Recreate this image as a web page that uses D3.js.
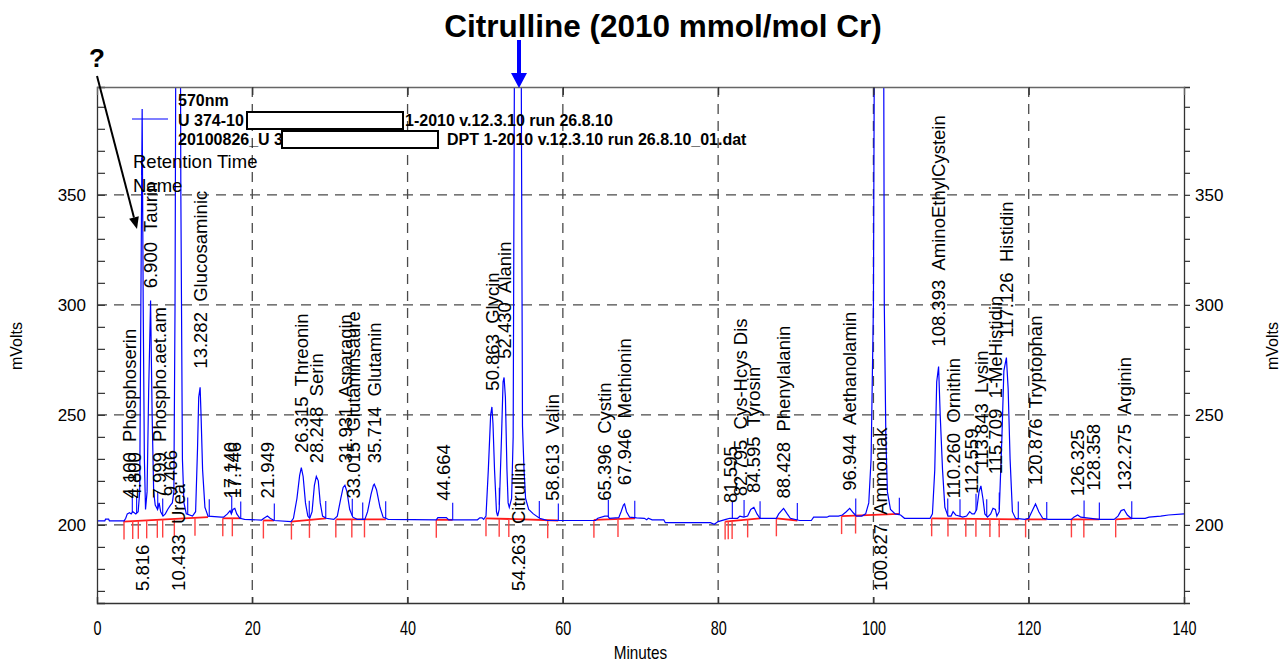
<!DOCTYPE html>
<html><head><meta charset="utf-8">
<script src="https://cdn.jsdelivr.net/npm/d3@7"></script>
<style>
body{margin:0;background:#fff}
svg{display:block}
text{font-family:"Liberation Sans",Arial,sans-serif;fill:#000}
.pre{white-space:pre}
</style>
</head><body>
<svg id="c" width="1288" height="662"></svg>
<script>
// ---------- DATA ----------
const minuteTicks = [0, 20, 40, 60, 80, 100, 120, 140];
const gridMinutes = [20, 40, 60, 80, 100, 120];
const mvMajorTicks = [200, 250, 300, 350];
const mvAllTicks = [170, 180, 190, 200, 210, 220, 230, 240, 250, 260, 270, 280, 290, 300, 310, 320, 330, 340, 350, 360, 370, 380, 390];

// chromatogram trace: [minutes, mVolts]
const chromatogram = [
 [0,201.8],[1.0,201.8],[1.1,202.6],[1.5,202.6],[1.6,201.8],[3.5,201.8],[3.7,203],[3.9,205],[4.2,205.5],[4.4,205],[4.6,206],[4.8,205.5],[5.0,205],[5.3,206],
 [5.5,215],[5.65,300],[5.816,389],[5.95,300],[6.1,230],[6.25,207],
 [6.45,215],[6.65,260],[6.9,302],[7.1,250],[7.3,215],[7.5,209],
 [7.8,207],[8.0,210],[8.2,206],[8.5,204],[8.8,205],[9.1,207],[9.466,209],[9.7,210],
 [9.9,215],[10.05,300],[10.3,600],[10.433,650],[10.6,600],[10.8,350],[11.0,230],[11.2,210],[11.5,205],[12.3,204],
 [12.7,206],[12.95,235],[13.1,258],[13.282,262.5],[13.4,250],[13.6,225],[13.9,208],[14.3,204],[16.0,203.5],
 [16.3,203.5],[16.8,205],[17.14,206.5],[17.3,205],[17.5,207],[17.75,207.5],[18.0,205],[18.4,203],[19.0,202.5],
 [21.2,202.2],[21.5,203],[21.949,204],[22.3,203],[22.8,202],[25.0,201.5],
 [25.3,203],[25.75,212],[26.1,222.5],[26.315,226],[26.55,222],[26.85,210],[27.15,204],[27.4,203],
 [27.7,206],[28.0,218],[28.248,222],[28.5,220],[28.75,210],[29.05,204],[29.5,203],[30.5,202.5],
 [30.95,204],[31.4,212],[31.7,217],[31.931,218],[32.2,215],[32.55,207],[32.95,203.5],[33.5,202.5],[34.5,202.5],
 [34.85,206],[35.3,214],[35.6,218],[35.714,218.5],[36.0,216],[36.45,208],[36.85,203.5],[37.5,202.5],
 [43.7,202.3],[43.9,203.3],[45.0,203.3],[45.3,202.3],[49.0,202.3],[49.3,203.2],[49.6,203.2],[49.8,202.5],
 [50.1,204],[50.4,225],[50.7,250],[50.863,253.6],[51.0,246],[51.2,225],[51.45,206],[51.6,204],
 [51.8,207],[52.1,240],[52.3,265],[52.43,267],[52.6,258],[52.8,225],[52.95,210],
 [53.1,208],[53.4,212],[53.6,240],[53.8,450],[54.263,700],[54.6,450],[54.8,245],[55.0,225],[55.2,212],[55.6,207],[56.2,205],[57.0,203],[57.5,202.5],[58.0,202],
 [64.2,202],[64.5,203],[65.4,204],[65.8,204],[66.0,203],[67.2,203.3],[67.5,206],[67.8,209],[67.946,209.5],[68.2,206],[68.6,203.5],[69.5,203.2],[70.5,203],[70.8,202.3],[71.0,203],[71.5,202.3],[73.0,202.3],[73.2,201],[79.0,201],[79.5,200.3],[80.0,201.5],[81.0,202.5],[81.5,203],[82.5,203],[82.8,204],[83.3,203.5],[83.8,204],[84.2,207],[84.6,208],[85.0,205],[85.4,203],[87.5,203],[87.8,205],[88.428,207.5],[88.9,205],[89.3,203],[90.5,202],[92.0,202],[92.3,203.5],[94.0,203.5],[94.3,204],[95.5,204],
 [96.0,204.5],[96.5,206],[96.944,207.5],[97.4,205.5],[97.8,204],[98.5,204],[99.0,205],[99.4,210],[99.7,230],[100.0,300],[100.3,600],[100.827,700],[101.2,600],[101.4,300],[101.6,240],[101.8,215],[102.2,207],[102.8,205],[103.5,204.5],[104.0,203],[107.3,203],
 [107.6,205],[107.9,225],[108.15,265],[108.393,272],[108.6,250],[108.9,225],[109.2,208],[109.6,204],
 [110.0,204],[110.26,206],[110.6,204.5],[111.5,203.5],[112.0,204],[112.4,206],[112.7,205],[113.0,205],
 [113.3,207],[113.6,215],[113.843,217.7],[114.1,212],[114.35,205],[114.7,203.5],
 [115.1,205],[115.4,207.5],[115.709,207],[115.9,204],
 [116.2,206],[116.55,240],[116.8,270],[117.126,276],[117.35,262],[117.6,230],[117.9,206],[118.3,203],[119.5,202.5],
 [120.0,203],[120.4,206],[120.876,209.5],[121.3,206],[121.8,203],[122.5,202.5],[125.5,202.5],[125.8,203.5],[126.3,204.5],[126.7,203.5],[128.0,203],[129.0,202.5],[131.0,202.5],
 [131.5,204],[131.9,206.5],[132.275,207],[132.7,204.5],[133.2,203],[135.0,203],[135.5,203.5],[137.0,204],[138.0,204.5],[140,205]
];

// integration baselines (red)
const baselineFrom   = [3.4, 16.2, 21.4, 25.0, 30.8, 43.7, 50.1, 64.0, 80.9, 87.5, 95.9, 107.5, 119.6, 125.5, 131.2];
const baselineTo     = [14.3, 18.5, 22.8, 29.5, 37.2, 45.8, 59.4, 69.3, 85.4, 90.2, 103.3, 118.7, 122.3, 129.1, 133.3];
const baselineFromMv = [201.5, 203, 202, 201.5, 202.5, 202.3, 203, 202.3, 201.5, 203, 204, 203, 202.5, 202.5, 202.5];
const baselineToMv   = [203.5, 203, 202, 203, 202.5, 202.3, 202, 203, 203, 202, 205, 202.5, 202.5, 202.5, 203];

// peak start (red) and end (blue) markers
const peakStartMinutes = [3.48, 4.6, 5.32, 6.4, 7.77, 8.46, 9.96, 12.62, 16.2, 17.43, 21.43, 25.04, 27.36, 30.76, 32.82, 34.45, 43.7, 50.1, 51.8, 53.04, 58.05, 64.0, 67.1, 80.9, 81.3, 81.8, 83.8, 87.5, 95.9, 97.7, 107.5, 109.6, 111.9, 113.2, 115.0, 116.2, 119.6, 125.5, 127.1, 131.2];
const peakEndMinutes = [4.55, 5.1, 5.76, 7.82, 8.46, 11.68, 14.46, 17.35, 18.51, 22.84, 27.34, 29.46, 32.88, 34.22, 37.18, 45.81, 51.82, 56.97, 59.42, 65.86, 69.26, 81.83, 83.34, 85.4, 90.2, 97.72, 103.34, 109.57, 111.15, 113.21, 114.59, 116.21, 118.66, 122.32, 127.13, 129.1, 133.27];

// peak annotations above trace
const peakMinutes = [4.1, 4.8, 6.9, 7.999, 9.466, 13.282, 17.14, 17.746, 21.949, 26.315, 28.248, 31.931, 33.015, 35.714, 44.664, 50.863, 52.43, 58.613, 65.396, 67.946, 81.595, 82.795, 84.595, 88.428, 96.944, 108.393, 110.26, 112.559, 113.843, 115.709, 117.126, 120.876, 126.325, 128.358, 132.275];
const peakNames = ["Phosphoserin", "", "Taurin", "Phospho.aet.am", "", "Glucosaminic", "", "", "", "Threonin", "Serin", "Asparagin", "Glutaminsäure", "Glutamin", "", "Glycin", "Alanin", "Valin", "Cystin", "Methionin", "", "Cys-Hcys Dis", "Tyrosin", "Phenylalanin", "Aethanolamin", "AminoEthylCystein", "Ornithin", "", "Lysin", "1-MeHistidin", "Histidin", "Tryptophan", "", "", "Arginin"];
const peakLabelMv = [212, 212, 307.5, 212, 213, 271, 212, 212, 212, 232.7, 228, 228, 212, 228, 211, 261, 275.5, 211, 211, 218, 210, 213, 214.5, 212, 215.5, 281, 212, 214, 225.5, 223, 285, 218, 213, 215.5, 215.5];
// peak annotations starting below the baseline (off-scale peaks)
const lowPeakMinutes = [5.816, 10.433, 54.263, 100.827];
const lowPeakNames = ["", "Urea", "Citrullin", "Ammoniak"];
const lowLabelMv = 170;

const titleText = "Citrulline (2010 mmol/mol Cr)";
const legendLines = ["570nm", "U 374-10", "20100826_U 3"];
const legendTails = ["1-2010 v.12.3.10 run 26.8.10", "DPT 1-2010 v.12.3.10 run 26.8.10_01.dat"];

// ---------- DRAW ----------
const L = 97, R = 1184, T = 87, B = 603;
const x = d3.scaleLinear().domain([0, 140]).range([L, R]);
const y = d3.scaleLinear().domain([164.5, 399]).range([B, T]);
const svg = d3.select("#c");
svg.append("defs").append("clipPath").attr("id", "pa")
  .append("rect").attr("x", L).attr("y", T).attr("width", R - L).attr("height", B - T);

const gridCol = "#4a4a4a";
svg.append("g").selectAll("line").data(gridMinutes).join("line")
  .attr("x1", d => x(d)).attr("x2", d => x(d)).attr("y1", T).attr("y2", B)
  .attr("stroke", gridCol).attr("stroke-width", 1.3).attr("stroke-dasharray", "10,7");
svg.append("g").selectAll("line").data(mvMajorTicks).join("line")
  .attr("x1", L).attr("x2", R).attr("y1", d => y(d)).attr("y2", d => y(d))
  .attr("stroke", gridCol).attr("stroke-width", 1.3).attr("stroke-dasharray", "10,7");

const interp = t => {
  const i = d3.bisector(d => d[0]).left(chromatogram, t);
  if (i <= 0) return chromatogram[0][1];
  if (i >= chromatogram.length) return chromatogram[chromatogram.length - 1][1];
  const a = chromatogram[i - 1], b = chromatogram[i];
  return a[1] + (b[1] - a[1]) * (t - a[0]) / (b[0] - a[0]);
};
const baseAt = t => {
  for (let k = 0; k < baselineFrom.length; k++) {
    if (t >= baselineFrom[k] - 0.05 && t <= baselineTo[k] + 0.05) {
      const f = (t - baselineFrom[k]) / (baselineTo[k] - baselineFrom[k]);
      return baselineFromMv[k] + f * (baselineToMv[k] - baselineFromMv[k]);
    }
  }
  return Math.min(interp(t), 203);
};

const plot = svg.append("g").attr("clip-path", "url(#pa)");

// peak labels (drawn under the trace)
const lab = svg.append("g").attr("font-size", 18.5);
lab.selectAll("text.up").data(peakMinutes).join("text").attr("class", "pre up")
  .attr("transform", (d, i) => `translate(${x(d)},${y(peakLabelMv[i])}) rotate(-90)`)
  .attr("dy", "0.36em")
  .text((d, i) => d3.format(".3f")(d) + (peakNames[i] ? "  " + peakNames[i] : ""));
lab.selectAll("text.dn").data(lowPeakMinutes).join("text").attr("class", "pre dn")
  .attr("transform", d => `translate(${x(d)},${y(lowLabelMv)}) rotate(-90)`)
  .attr("dy", "0.36em")
  .text((d, i) => d3.format(".3f")(d) + (lowPeakNames[i] ? "  " + lowPeakNames[i] : ""));

// red baselines
plot.append("g").selectAll("line").data(baselineFrom).join("line")
  .attr("x1", d => x(d)).attr("x2", (d, i) => x(baselineTo[i]))
  .attr("y1", (d, i) => y(baselineFromMv[i])).attr("y2", (d, i) => y(baselineToMv[i]))
  .attr("stroke", "#ff1a1a").attr("stroke-width", 1.8);
plot.append("g").selectAll("line").data(peakStartMinutes).join("line")
  .attr("x1", d => x(d)).attr("x2", d => x(d))
  .attr("y1", d => y(baseAt(d))).attr("y2", d => y(baseAt(d)) + 18)
  .attr("stroke", "#ff4040").attr("stroke-width", 1.4);
plot.append("g").selectAll("line").data(peakEndMinutes).join("line")
  .attr("x1", d => x(d)).attr("x2", d => x(d))
  .attr("y1", d => y(interp(d))).attr("y2", d => y(interp(d)) - 17)
  .attr("stroke", "#1a1aff").attr("stroke-width", 1.2);

// trace
plot.append("path").datum(chromatogram)
  .attr("d", d3.line().x(d => x(d[0])).y(d => y(d[1])))
  .attr("fill", "none").attr("stroke", "#0000ff").attr("stroke-width", 1.2);

// axes
const axCol = "#333";
const gl = svg.append("g").attr("transform", `translate(${L},0)`)
  .call(d3.axisLeft(y).tickValues(mvAllTicks).tickSize(-8).tickPadding(11)
    .tickFormat(d => mvMajorTicks.includes(d) ? d : ""));
const gr = svg.append("g").attr("transform", `translate(${R},0)`)
  .call(d3.axisRight(y).tickValues(mvAllTicks).tickSize(6).tickPadding(5)
    .tickFormat(d => mvMajorTicks.includes(d) ? d : ""));
const gb = svg.append("g").attr("transform", `translate(0,${B})`)
  .call(d3.axisBottom(x).tickValues(minuteTicks).tickSize(-6).tickPadding(18));
const gt = svg.append("g").attr("transform", `translate(0,${T})`)
  .call(d3.axisTop(x).tickValues(gridMinutes).tickSize(-8).tickFormat(""));
[gl, gr, gb, gt].forEach(g => {
  g.select(".domain").attr("stroke", axCol).attr("stroke-width", 1.3);
  g.selectAll(".tick line").attr("stroke", axCol).attr("stroke-width", 1.2);
  g.selectAll("text").attr("font-size", 17).attr("fill", "#111");
});
gb.selectAll("text").attr("font-size", 20).attr("transform", "scale(0.72,1)");
gt.select(".domain").attr("stroke", "#666");
svg.append("text").attr("transform", `translate(${(L + R) / 2},659) scale(0.85,1)`).attr("text-anchor", "middle")
  .attr("font-size", 18).text("Minutes");
svg.append("text").attr("transform", `translate(22,346) rotate(-90)`).attr("text-anchor", "middle")
  .attr("font-size", 16).text("mVolts");
svg.append("text").attr("transform", `translate(1278,346) rotate(-90)`).attr("text-anchor", "middle")
  .attr("font-size", 16).text("mVolts");

// legend
svg.append("text").attr("x", 178).attr("y", 106).attr("font-size", 16).attr("font-weight", "bold").text(legendLines[0]);
svg.append("text").attr("x", 178).attr("y", 126).attr("font-size", 16).attr("font-weight", "bold").text(legendLines[1]);
svg.append("text").attr("x", 178).attr("y", 145).attr("font-size", 16).attr("font-weight", "bold").text(legendLines[2]);
svg.append("text").attr("x", 405).attr("y", 126).attr("font-size", 16).attr("font-weight", "bold").text(legendTails[0]);
svg.append("text").attr("x", 447).attr("y", 145).attr("font-size", 16).attr("font-weight", "bold").text(legendTails[1]);
svg.append("rect").attr("x", 247).attr("y", 112).attr("width", 156).attr("height", 17)
  .attr("fill", "#fff").attr("stroke", "#000").attr("stroke-width", 2);
svg.append("rect").attr("x", 282).attr("y", 131).attr("width", 156).attr("height", 17)
  .attr("fill", "#fff").attr("stroke", "#000").attr("stroke-width", 2);
svg.append("line").attr("x1", 132).attr("x2", 168).attr("y1", 119).attr("y2", 119)
  .attr("stroke", "#0000ff").attr("stroke-width", 1.2);
svg.append("text").attr("x", 133).attr("y", 168).attr("font-size", 18.5).text("Retention Time");
svg.append("text").attr("x", 133).attr("y", 192).attr("font-size", 18.5).text("Name");

// title & annotations
svg.append("text").attr("x", 663).attr("y", 37).attr("text-anchor", "middle")
  .attr("font-size", 31.5).attr("font-weight", "bold").text(titleText);
svg.append("line").attr("x1", 519).attr("x2", 519).attr("y1", 40).attr("y2", 75)
  .attr("stroke", "#0000ff").attr("stroke-width", 4);
svg.append("path").attr("d", "M511,73 L527,73 L519,88 Z").attr("fill", "#0000ff");
svg.append("text").attr("x", 97).attr("y", 67).attr("text-anchor", "middle")
  .attr("font-size", 26).attr("font-weight", "bold").text("?");
(function () {
  const x0 = 97, y0 = 76, x1 = 137, y1 = 229;
  const dx = x1 - x0, dy = y1 - y0, len = Math.hypot(dx, dy), ux = dx / len, uy = dy / len;
  const hl = 12, hw = 5;
  const bx = x1 - ux * hl, by = y1 - uy * hl;
  svg.append("line").attr("x1", x0).attr("y1", y0).attr("x2", bx).attr("y2", by)
    .attr("stroke", "#000").attr("stroke-width", 2);
  svg.append("path").attr("d", `M${x1},${y1} L${bx - uy * hw},${by + ux * hw} L${bx + uy * hw},${by - ux * hw} Z`).attr("fill", "#000");
})();
</script>
</body></html>
